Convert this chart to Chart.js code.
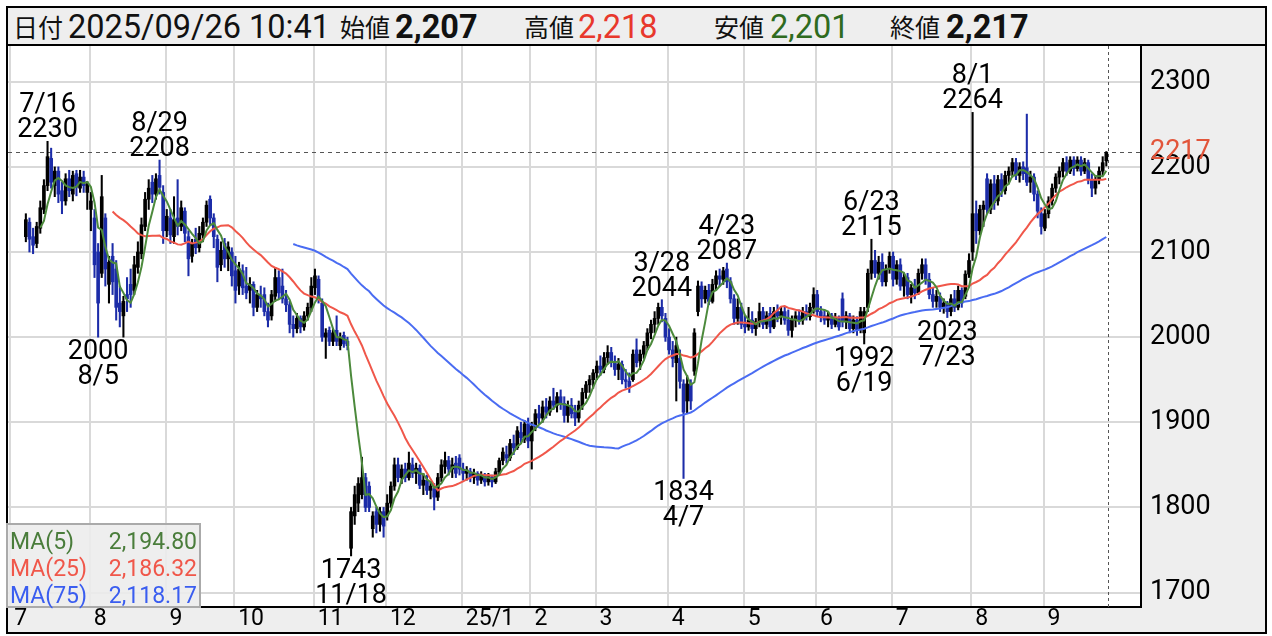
<!DOCTYPE html>
<html><head><meta charset="utf-8">
<script src="https://cdn.jsdelivr.net/npm/chart.js@4.4.1/dist/chart.umd.min.js"></script>
<style>
html,body{margin:0;padding:0;background:#fff;}
#wrap{position:relative;width:1272px;height:636px;overflow:hidden;background:#fff;}
#c{position:absolute;left:0;top:0;}
#hdr{position:absolute;left:6px;top:6px;width:1257px;height:36px;border:2px solid #000;background:#eeeeee;font-family:Roboto,'Noto Sans CJK JP',sans-serif;color:#111;}
#hdr span{position:absolute;top:0;line-height:38px;font-size:32.5px;white-space:nowrap;}
#hdr span.cjk{font-family:'Noto Sans CJK JP',sans-serif;font-size:25px;line-height:37px;}
#hdr span.b{font-weight:bold;}
#leg{position:absolute;left:6px;top:523px;width:191px;height:81px;border:2px solid #aaa;background:rgba(236,236,236,0.88);font-family:Roboto,sans-serif;font-size:23px;}
#leg .row{position:absolute;left:2px;right:2px;height:27px;line-height:27px;}
#leg .v{position:absolute;right:0;top:0;}
</style></head>
<body>
<div id="wrap">
<canvas id="c" width="1272" height="636"></canvas>
<div id="hdr">
<span class="cjk" style="left:5px">日付</span>
<span style="left:60px">2025/09/26 10:41</span>
<span class="cjk" style="left:332px">始値</span>
<span class="b" style="left:387px">2,207</span>
<span class="cjk" style="left:516px">高値</span>
<span style="left:570px;color:#e8382c">2,218</span>
<span class="cjk" style="left:706px">安値</span>
<span style="left:762px;color:#2f6b1e">2,201</span>
<span class="cjk" style="left:882px">終値</span>
<span class="b" style="left:938px">2,217</span>
</div>
<div id="leg"></div>
</div>
<script>
// trading-day index (counted from 2024-07-01) of the first candle
const firstIndex = 4;
const opens = [2118,2135,2118,2110,2128,2150,2178,2210,2178,2195,2172,2160,2186,2168,2192,2175,2188,2170,2150,2140,2100,2075,2140,2062,2095,2080,2040,2025,2050,2062,2055,2082,2098,2130,2162,2182,2168,2190,2170,2125,2140,2118,2140,2130,2148,2118,2095,2115,2105,2120,2135,2162,2140,2115,2085,2110,2092,2100,2078,2060,2078,2060,2055,2062,2035,2048,2050,2030,2025,2048,2070,2060,2045,2038,2015,2010,2022,2012,2025,2035,2058,2068,2040,2000,2008,1995,2008,1990,2002,1995,1752,1790,1805,1815,1835,1825,1775,1795,1780,1795,1790,1805,1825,1850,1835,1845,1835,1850,1840,1846,1826,1832,1820,1822,1812,1835,1848,1855,1845,1852,1858,1845,1840,1842,1835,1840,1832,1838,1830,1836,1830,1842,1855,1862,1858,1875,1870,1888,1880,1898,1878,1895,1910,1905,1918,1912,1925,1920,1930,1922,1908,1920,1912,1905,1920,1935,1944,1950,1958,1966,1962,1976,1982,1970,1962,1968,1950,1948,1950,1985,1972,1980,1990,2005,2015,2022,2035,2022,2000,1985,1970,1975,1945,1925,1945,1960,2030,2060,2045,2055,2042,2062,2072,2068,2080,2065,2045,2022,2035,2015,2012,2020,2010,2018,2030,2015,2028,2012,2030,2025,2030,2020,2008,2020,2025,2020,2030,2024,2035,2050,2030,2025,2020,2025,2015,2022,2045,2018,2025,2010,2020,2010,2005,2035,2075,2090,2075,2088,2065,2080,2095,2068,2085,2060,2070,2050,2058,2052,2075,2085,2068,2050,2042,2048,2035,2040,2030,2045,2035,2055,2048,2074,2100,2145,2125,2150,2186,2150,2180,2160,2185,2172,2190,2195,2205,2190,2200,2199,2182,2188,2168,2145,2128,2145,2160,2175,2188,2195,2205,2195,2208,2198,2208,2195,2205,2185,2175,2185,2195,2207];
const highs = [2145,2140,2128,2135,2160,2185,2230,2222,2200,2200,2182,2192,2196,2195,2196,2196,2195,2183,2170,2150,2110,2190,2145,2095,2110,2090,2060,2048,2070,2080,2095,2112,2140,2170,2185,2190,2192,2208,2178,2150,2150,2165,2185,2160,2152,2125,2115,2128,2130,2140,2160,2166,2145,2120,2112,2116,2112,2105,2095,2088,2085,2082,2070,2065,2055,2060,2058,2040,2055,2082,2078,2080,2055,2042,2025,2028,2025,2030,2040,2070,2080,2072,2045,2010,2012,2010,2025,2005,2006,2000,1800,1825,1835,1859,1840,1830,1795,1800,1800,1800,1815,1830,1858,1858,1850,1852,1865,1858,1852,1850,1840,1838,1830,1828,1840,1856,1865,1860,1858,1860,1862,1852,1848,1846,1845,1842,1842,1840,1840,1838,1846,1858,1870,1872,1880,1885,1895,1900,1902,1905,1900,1915,1920,1925,1928,1930,1940,1935,1938,1930,1925,1928,1920,1925,1940,1948,1955,1962,1972,1978,1982,1990,1988,1978,1975,1972,1962,1958,1985,1998,1985,1995,2010,2020,2030,2040,2044,2028,2010,1995,2000,1985,1950,1955,1950,2010,2066,2065,2060,2062,2068,2078,2080,2082,2087,2070,2050,2045,2040,2025,2035,2030,2022,2040,2035,2030,2035,2035,2038,2035,2036,2032,2025,2030,2032,2035,2038,2040,2058,2055,2036,2032,2030,2028,2028,2025,2052,2030,2028,2025,2024,2035,2035,2080,2115,2102,2095,2098,2085,2100,2100,2090,2092,2075,2075,2062,2068,2080,2092,2092,2075,2058,2055,2052,2045,2042,2050,2055,2060,2058,2078,2098,2264,2160,2155,2160,2192,2185,2190,2190,2192,2195,2200,2210,2210,2205,2206,2262,2195,2192,2172,2152,2150,2165,2180,2192,2200,2210,2212,2212,2212,2212,2212,2210,2208,2192,2190,2200,2212,2218];
const lows = [2112,2100,2098,2105,2122,2145,2172,2175,2165,2158,2145,2155,2165,2160,2166,2170,2170,2150,2125,2070,2000,2070,2060,2040,2050,2020,2012,2000,2030,2035,2050,2075,2092,2125,2150,2158,2162,2168,2110,2118,2110,2110,2120,2125,2112,2072,2088,2098,2100,2112,2130,2132,2105,2065,2078,2082,2078,2060,2040,2050,2050,2045,2040,2025,2030,2035,2025,2012,2020,2042,2045,2040,2030,2005,2000,2005,2005,2008,2020,2030,2050,2040,1995,1975,1990,1990,1990,1985,1988,1985,1743,1780,1795,1810,1795,1795,1765,1770,1772,1765,1785,1800,1820,1830,1828,1830,1832,1835,1828,1822,1815,1815,1810,1797,1808,1830,1840,1838,1835,1835,1838,1832,1832,1830,1828,1826,1828,1825,1826,1824,1828,1838,1850,1852,1855,1862,1868,1875,1876,1870,1845,1890,1898,1900,1905,1908,1915,1912,1915,1900,1900,1905,1896,1900,1915,1928,1935,1940,1950,1955,1958,1968,1965,1955,1950,1945,1940,1935,1948,1965,1962,1975,1985,1998,2005,2015,2018,1995,1980,1965,1925,1940,1834,1910,1915,1955,2025,2035,2040,2038,2040,2055,2060,2062,2058,2040,2015,2015,2010,2005,2008,2005,2002,2012,2010,2010,2005,2010,2018,2015,2015,2002,2000,2012,2015,2015,2020,2020,2028,2025,2018,2015,2012,2010,2012,2008,2012,2010,2005,2005,2002,2005,1992,2030,2068,2070,2068,2060,2060,2075,2060,2062,2055,2048,2045,2040,2045,2050,2068,2062,2045,2035,2035,2030,2028,2023,2025,2030,2032,2035,2045,2070,2090,2110,2120,2130,2145,2145,2150,2155,2165,2168,2180,2188,2185,2182,2185,2178,2170,2160,2140,2121,2125,2140,2155,2170,2180,2188,2190,2192,2190,2195,2190,2192,2180,2165,2168,2180,2190,2201];
const closes = [2138,2115,2108,2130,2152,2178,2212,2182,2195,2168,2160,2186,2172,2190,2176,2188,2178,2180,2160,2085,2040,2165,2080,2088,2065,2035,2030,2042,2045,2050,2085,2100,2132,2162,2175,2168,2186,2176,2125,2142,2120,2138,2130,2152,2122,2092,2110,2105,2122,2135,2155,2140,2118,2082,2102,2092,2106,2072,2055,2080,2058,2052,2062,2035,2050,2045,2030,2020,2050,2070,2052,2045,2038,2015,2010,2022,2012,2025,2035,2060,2072,2045,2000,2005,1995,2005,1995,2000,1992,1990,1795,1815,1828,1835,1800,1800,1790,1780,1795,1778,1805,1825,1850,1835,1845,1835,1852,1840,1846,1826,1832,1820,1825,1812,1835,1850,1855,1845,1850,1840,1845,1840,1844,1835,1840,1832,1838,1830,1836,1830,1842,1855,1865,1858,1875,1870,1890,1882,1898,1878,1895,1910,1905,1918,1912,1925,1920,1930,1922,1908,1920,1910,1905,1920,1935,1944,1950,1958,1966,1962,1976,1982,1970,1962,1968,1950,1948,1942,1980,1970,1980,1990,2005,2015,2022,2035,2025,2000,1985,1975,1990,1948,1912,1945,1925,2005,2060,2045,2055,2042,2062,2072,2068,2078,2065,2045,2022,2035,2015,2012,2020,2010,2018,2030,2015,2025,2012,2030,2025,2030,2020,2008,2020,2025,2020,2030,2024,2035,2050,2030,2025,2020,2025,2015,2022,2012,2018,2025,2010,2020,2008,2030,2030,2075,2090,2075,2088,2065,2080,2095,2068,2085,2060,2070,2050,2058,2052,2075,2085,2068,2050,2042,2048,2035,2040,2030,2045,2035,2055,2040,2074,2090,2145,2125,2150,2155,2150,2180,2158,2185,2172,2190,2195,2205,2190,2200,2192,2182,2188,2168,2148,2130,2145,2160,2175,2188,2195,2205,2195,2208,2198,2208,2195,2205,2185,2175,2185,2195,2205,2217];

// x axis: month boundaries (trading-day index) and their labels
const monthTickIndex = [0,22,43,62,84,104,125,144,162,182,203,223,244,266,286];
const monthLabels = ['7','8','9','10','11','12','25/1','2','3','4','5','6','7','8','9'];
const yTicks = [1700,1800,1900,2000,2100,2200,2300];

// moving averages
const maPeriods = [5,25,75];
const maNames = ['MA(5)','MA(25)','MA(75)'];
const maLegendValues = ['2,194.80','2,186.32','2,118.17'];

// price shown on the right axis
const lastPrice = 2217;

// high / low annotations
const annoIndex = [10,41,24,94,180,198,186,238,236,259,266];
const annoValue = [2230,2208,2000,1743,2044,2087,1834,2115,1992,2023,2264];
const annoDate = ['7/16','8/29','8/5','11/18','3/28','4/23','4/7','6/23','6/19','7/23','8/1'];
const annoAbove = [true,true,false,false,true,true,false,true,false,false,true];

// ---------- styling ----------
const UP = '#000000', DOWN = '#1c2ca8';
const maColors = ['#4c8a3c','#f0574a','#4a6cf2'];
const legColors = ['#4a7d3b','#f0574a','#3a5df0'];
const FONT = 'Roboto, sans-serif';

const idx = opens.map((_, k) => firstIndex + k);
const candleColors = opens.map((o, k) => closes[k] >= o ? UP : DOWN);
const wickData = idx.map((x, k) => ({x, y: [lows[k], highs[k]]}));
const bodyData = idx.map((x, k) => ({x, y: [opens[k], closes[k]]}));
function sma(n) {
  const out = [];
  for (let k = n - 1; k < closes.length; k++) {
    let s = 0;
    for (let j = k - n + 1; j <= k; j++) s += closes[j];
    out.push({x: idx[k], y: s / n});
  }
  return out;
}
const lastIdx = idx[idx.length - 1];

const leg = document.getElementById('leg');
maNames.forEach((n, k) => {
  const r = document.createElement('div');
  r.className = 'row';
  r.style.top = (3 + k * 27) + 'px';
  r.style.color = legColors[k];
  r.innerHTML = '<span>' + n + '</span><span class="v">' + maLegendValues[k] + '</span>';
  leg.appendChild(r);
});

const frame = {
  id: 'frame',
  beforeDraw(chart) {
    const {ctx, chartArea: a} = chart;
    ctx.save();
    ctx.fillStyle = '#eeeeee';
    ctx.fillRect(a.right, a.top, 1267 - a.right, a.bottom - a.top);
    ctx.fillRect(6, a.bottom, 1261, 633 - a.bottom);
    ctx.fillStyle = '#ffffff';
    ctx.fillRect(a.left, a.top, a.right - a.left, a.bottom - a.top);
    ctx.restore();
  },
  beforeDatasetsDraw(chart) {
    const {ctx, chartArea: a, scales} = chart;
    ctx.save();
    ctx.strokeStyle = '#555';
    ctx.lineWidth = 1;
    ctx.setLineDash([4, 4]);
    const yp = Math.round(scales.y.getPixelForValue(lastPrice)) + 0.5;
    ctx.beginPath(); ctx.moveTo(a.left, yp); ctx.lineTo(a.right, yp); ctx.stroke();
    const xp = Math.round(scales.x.getPixelForValue(lastIdx + 0.5)) + 0.5;
    ctx.setLineDash([3, 3]);
    ctx.beginPath(); ctx.moveTo(xp, a.top); ctx.lineTo(xp, a.bottom); ctx.stroke();
    ctx.restore();
  },
  afterDraw(chart) {
    const {ctx, chartArea: a, scales} = chart;
    ctx.save();
    // annotations
    ctx.fillStyle = '#000';
    ctx.font = '27px ' + FONT;
    ctx.textAlign = 'center';
    ctx.textBaseline = 'alphabetic';
    annoIndex.forEach((i, k) => {
      const x = scales.x.getPixelForValue(i);
      const y = scales.y.getPixelForValue(annoValue[k]);
      if (annoAbove[k]) {
        ctx.fillText(String(annoValue[k]), x, y - 4);
        ctx.fillText(annoDate[k], x, y - 29);
      } else {
        ctx.fillText(String(annoValue[k]), x, y + 22);
        ctx.fillText(annoDate[k], x, y + 47);
      }
    });
    // last price label on axis
    ctx.textAlign = 'left';
    ctx.textBaseline = 'middle';
    ctx.fillStyle = '#e2553a';
    ctx.fillText(String(lastPrice), a.right + 9, scales.y.getPixelForValue(lastPrice));
    // frame lines
    ctx.fillStyle = '#000';
    ctx.fillRect(6, 44, 2, 590);
    ctx.fillRect(1265, 44, 2, 590);
    ctx.fillRect(6, 632, 1261, 2);
    ctx.restore();
  }
};

new Chart(document.getElementById('c'), {
  type: 'bar',
  data: {
    datasets: [
      ...maPeriods.map((n, k) => ({
        type: 'line', label: maNames[k], data: sma(n), borderColor: maColors[k],
        borderWidth: 2, pointRadius: 0, tension: 0, order: k
      })),
      {type: 'bar', label: 'body', data: bodyData, backgroundColor: candleColors,
       barThickness: 3, grouped: false, minBarLength: 1, borderWidth: 0, order: 10},
      {type: 'bar', label: 'wick', data: wickData, backgroundColor: candleColors,
       barThickness: 1.4, grouped: false, borderWidth: 0, order: 11}
    ]
  },
  options: {
    responsive: false,
    animation: false,
    events: [],
    layout: {padding: {left: 8, top: 46, right: 5, bottom: 4}},
    plugins: {legend: {display: false}, tooltip: {enabled: false}},
    scales: {
      x: {
        type: 'linear', offset: false, min: -0.94, max: 312.6,
        afterBuildTicks: s => { s.ticks = monthTickIndex.map(v => ({value: v - 0.35})); },
        afterFit: s => { s.height = 25; },
        grid: {color: '#d9d9d9', lineWidth: 2, drawTicks: false, offset: false},
        border: {display: true, color: '#000', width: 2},
        ticks: {
          autoSkip: false, maxRotation: 0, align: 'start', labelOffset: 4, padding: 1,
          color: '#000', font: {family: "'Liberation Sans Narrow', " + FONT, size: 23, lineHeight: 1},
          callback: (v, k) => monthLabels[k]
        }
      },
      y: {
        position: 'right', min: 1683, max: 2342,
        afterBuildTicks: s => { s.ticks = yTicks.map(v => ({value: v})); },
        afterFit: s => { s.width = 126; },
        grid: {color: '#d9d9d9', lineWidth: 2, drawTicks: false},
        border: {display: true, color: '#000', width: 2},
        ticks: {padding: 9, color: '#000', font: {family: FONT, size: 27}, callback: v => String(v)}
      }
    }
  },
  plugins: [frame]
});
</script>
</body></html>
